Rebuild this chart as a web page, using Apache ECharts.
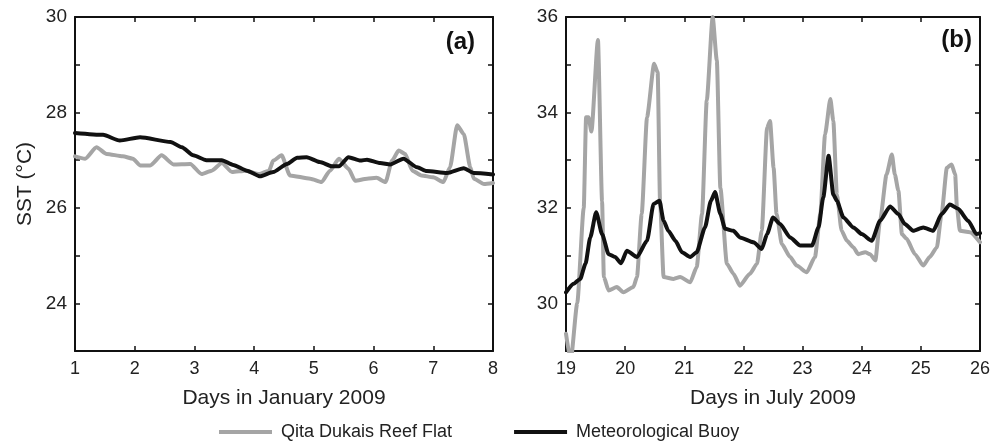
<!DOCTYPE html>
<html><head><meta charset="utf-8">
<script src="https://cdn.jsdelivr.net/npm/echarts@6/dist/echarts.min.js"></script>
<style>html,body{margin:0;padding:0;background:#fff}#c{width:1000px;height:442px}</style>
</head><body><div id="c"></div>
<script>
// ---- Panel (a): January 2009 ----
const janReefDays = [1.0,1.17,1.36,1.53,1.8,1.97,2.09,2.26,2.45,2.65,2.93,3.12,3.29,3.46,3.63,3.86,4.08,4.25,4.32,4.46,4.6,4.94,5.13,5.27,5.42,5.58,5.69,5.89,6.05,6.2,6.31,6.42,6.53,6.65,6.8,7.0,7.17,7.28,7.4,7.51,7.62,7.68,7.85,8.0];
const janReefSST  = [27.08,27.03,27.27,27.13,27.08,27.03,26.89,26.89,27.1,26.91,26.92,26.71,26.78,26.94,26.75,26.78,26.71,26.78,26.99,27.1,26.68,26.61,26.54,26.78,27.03,26.82,26.57,26.61,26.63,26.54,26.99,27.2,27.13,26.78,26.68,26.64,26.54,26.85,27.73,27.55,26.85,26.61,26.5,26.52];
const janBuoyDays = [1.0,1.47,1.75,2.09,2.6,2.79,2.98,3.2,3.46,3.65,3.88,4.1,4.32,4.55,4.72,4.88,5.1,5.3,5.42,5.58,5.78,5.89,6.11,6.28,6.5,6.73,6.89,7.23,7.51,7.68,8.0];
const janBuoySST  = [27.57,27.53,27.41,27.48,27.38,27.27,27.1,27.0,27.0,26.9,26.78,26.66,26.75,26.92,27.05,27.06,26.96,26.87,26.87,27.06,26.99,27.01,26.94,26.91,27.03,26.85,26.77,26.73,26.83,26.73,26.7];
// ---- Panel (b): July 2009 ----
const julReefDays = [19.0,19.08,19.19,19.3,19.34,19.38,19.43,19.54,19.61,19.64,19.72,19.86,19.97,20.14,20.2,20.28,20.37,20.49,20.55,20.59,20.65,20.82,20.93,21.1,21.21,21.3,21.38,21.48,21.55,21.61,21.72,21.83,21.94,22.11,22.23,22.31,22.4,22.45,22.51,22.56,22.65,22.79,22.9,23.07,23.21,23.3,23.38,23.47,23.52,23.58,23.66,23.75,23.86,23.94,24.06,24.14,24.23,24.31,24.42,24.51,24.56,24.62,24.68,24.76,24.9,25.04,25.15,25.27,25.35,25.44,25.52,25.58,25.61,25.66,25.83,26.0];
const julReefSST  = [29.36,28.8,30.0,32.0,33.9,33.9,33.6,35.52,32.14,30.55,30.27,30.34,30.23,30.34,30.55,31.87,33.9,35.02,34.84,32.14,30.55,30.51,30.55,30.44,30.76,31.87,34.25,36.0,35.09,32.42,30.83,30.62,30.37,30.62,30.83,31.52,33.68,33.82,32.84,31.87,31.24,30.97,30.79,30.65,30.97,31.87,33.54,34.28,33.82,32.28,31.52,31.31,31.17,31.03,31.07,31.03,30.9,31.73,32.7,33.12,32.7,32.36,31.45,31.35,31.03,30.79,30.97,31.17,31.87,32.84,32.91,32.7,32.01,31.52,31.49,31.28];
const julBuoyDays = [19.0,19.13,19.24,19.33,19.41,19.51,19.61,19.72,19.83,19.93,20.03,20.2,20.37,20.48,20.58,20.65,20.73,20.85,20.96,21.1,21.21,21.35,21.45,21.52,21.61,21.69,21.83,21.94,22.17,22.31,22.4,22.5,22.62,22.79,22.96,23.16,23.27,23.35,23.44,23.52,23.58,23.69,23.86,24.0,24.17,24.31,24.48,24.62,24.73,24.87,25.04,25.21,25.35,25.49,25.63,25.8,25.94,26.0];
const julBuoySST  = [30.23,30.41,30.51,30.83,31.38,31.91,31.45,31.03,30.97,30.84,31.1,30.97,31.31,32.08,32.15,31.73,31.52,31.31,31.07,30.97,31.07,31.59,32.15,32.33,31.87,31.56,31.52,31.38,31.28,31.14,31.45,31.8,31.66,31.38,31.21,31.21,31.59,32.22,33.09,32.28,32.15,31.8,31.59,31.45,31.31,31.73,32.03,31.87,31.66,31.52,31.59,31.52,31.87,32.07,31.98,31.73,31.45,31.47];

const seriesNames = ['Qita Dukais Reef Flat','Meteorological Buoy'];
const panelTags = ['(a)','(b)'];
const xNames = ['Days in January 2009','Days in July 2009'];
const yName = 'SST (°C)';

const GRAY = '#a5a5a5', BLACK = '#111111', FONT = 'Liberation Sans, Arial, sans-serif';
const zip = (xs, ys) => xs.map((x, i) => [x, ys[i]]);

function xAxes(gi, min, max, name) {
  return [
    { type:'value', gridIndex:gi, min, max, interval:1, position:'bottom',
      name, nameLocation:'middle', nameGap:37,
      nameTextStyle:{fontSize:21, color:'#222', fontFamily:FONT},
      axisLine:{show:true, lineStyle:{color:'#111', width:2}},
      axisTick:{inside:true, length:5, lineStyle:{color:'#111', width:1.5}},
      axisLabel:{fontSize:18, color:'#222', fontFamily:FONT, margin:9},
      splitLine:{show:false} },
    { type:'value', gridIndex:gi, min, max, interval:1, position:'top',
      axisLine:{show:true, lineStyle:{color:'#111', width:2}},
      axisTick:{inside:true, length:5, lineStyle:{color:'#111', width:1.5}},
      axisLabel:{show:false}, splitLine:{show:false} }
  ];
}
function yAxes(gi, min, max, withName) {
  const lab = v => (v % 2 === 0 ? String(v) : '');
  return [
    { type:'value', gridIndex:gi, min, max, interval:1, position:'left',
      name: withName ? yName : '', nameLocation:'middle', nameGap:39,
      nameTextStyle:{fontSize:21, color:'#222', fontFamily:FONT},
      axisLine:{show:true, lineStyle:{color:'#111', width:2}},
      axisTick:{inside:true, length:5, lineStyle:{color:'#111', width:1.5}},
      axisLabel:{fontSize:19, color:'#222', fontFamily:FONT, margin:8, formatter:lab},
      splitLine:{show:false} },
    { type:'value', gridIndex:gi, min, max, interval:1, position:'right',
      axisLine:{show:true, lineStyle:{color:'#111', width:2}},
      axisTick:{inside:true, length:5, lineStyle:{color:'#111', width:1.5}},
      axisLabel:{show:false}, splitLine:{show:false} }
  ];
}
function line(name, color, data, xi, yi) {
  return { name, type:'line', xAxisIndex:xi, yAxisIndex:yi, data, showSymbol:false,
    symbol:'none', smooth:0.2, smoothMonotone:'x', clip:true, animation:false,
    lineStyle:{color, width:4, cap:'round', join:'round'}, itemStyle:{color}, z: color===BLACK?3:2 };
}

const chart = echarts.init(document.getElementById('c'), null, {renderer:'canvas'});
chart.setOption({
  animation:false,
  backgroundColor:'#fff',
  grid:[
    {left:75, right:507, top:17, bottom:91},
    {left:566, right:20, top:17, bottom:91}
  ],
  xAxis:[...xAxes(0,1,8,xNames[0]), ...xAxes(1,19,26,xNames[1])],
  yAxis:[...yAxes(0,23,30,true), ...yAxes(1,29,36,false)],
  legend:{ left:219, top:423, padding:0, itemWidth:53, itemHeight:4, itemGap:62, icon:'rect',
    textStyle:{fontSize:18, color:'#222', fontFamily:FONT, padding:[0,0,0,4]},
    data:[{name:seriesNames[0], itemStyle:{color:GRAY}}, {name:seriesNames[1], itemStyle:{color:BLACK}}] },
  graphic:[
    {type:'text', right:525, top:30, style:{text:panelTags[0], font:'bold 24px '+FONT, fill:'#111'}},
    {type:'text', right:28, top:28, style:{text:panelTags[1], font:'bold 24px '+FONT, fill:'#111'}}
  ],
  series:[
    line(seriesNames[0], GRAY, zip(janReefDays, janReefSST), 0, 0),
    line(seriesNames[1], BLACK, zip(janBuoyDays, janBuoySST), 0, 0),
    line(seriesNames[0], GRAY, zip(julReefDays, julReefSST), 2, 2),
    line(seriesNames[1], BLACK, zip(julBuoyDays, julBuoySST), 2, 2)
  ]
});
</script></body></html>
